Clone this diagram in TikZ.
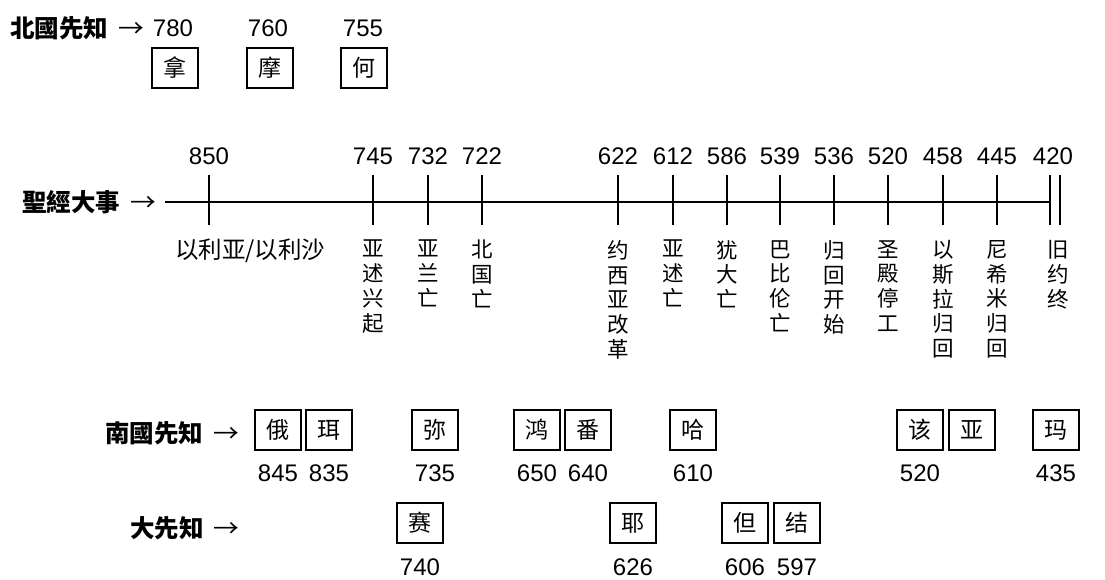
\documentclass[tikz,border=0pt]{standalone}
\usepackage{fontspec}
\setmainfont{Liberation Sans}
\newfontfamily\cjk{Noto Sans CJK SC}
\newcommand{\rowarrow}{\hspace{10pt}{\mdseries\scalebox{1.05}[1]{→}}}
\begin{document}
\begin{tikzpicture}[x=1pt,y=-1pt,
  pbox/.style={draw, line width=1.6pt, minimum width=46pt, minimum height=40pt, inner sep=0pt, font=\cjk\fontsize{23}{23}\selectfont},
  num/.style={inner sep=0pt, font=\fontsize{24}{24}\selectfont},
  vlab/.style={anchor=north, align=center, inner sep=0pt, font=\cjk\fontsize{21.5}{24.8}\selectfont},
  rowlab/.style={anchor=west, inner sep=0pt, font=\cjk\bfseries\fontsize{24.5}{24.5}\selectfont},
  tick/.style={line width=1.8pt}]
\useasboundingbox (0,0) rectangle (1105,579);
% north prophets
\node[rowlab] (rN) at (10,28) {北國先知\rowarrow};
\node[num] (n780) at (173,28) {780};
\node[num] (n760) at (268,28) {760};
\node[num] (n755) at (363,28) {755};
\node[pbox] (bNa) at (175,68) {拿};
\node[pbox] (bMo) at (270,68) {摩};
\node[pbox] (bHe) at (364,68) {何};
% timeline
\node[rowlab] (rT) at (22,202) {聖經大事\rowarrow};
\coordinate (ls) at (165,202);
\coordinate (le) at (1050,202);
\draw[line width=1.6pt] (ls) -- (le);
\foreach \x/\yr in {209/850,373/745,428/732,482/722,618/622,673/612,727/586,780/539,834/536,888/520,943/458,997/445}{
  \draw[tick] (\x,175) -- (\x,225);
  \node[num] (t\yr) at (\x,156) {\yr};
}
\draw[tick] (1050,175) -- (1050,225);
\draw[tick] (1060,175) -- (1060,225);
\node[num] (t420) at (1053,156) {420};
\node[anchor=west, inner sep=0pt, font=\cjk\fontsize{23.5}{23.5}\selectfont] (l850) at (175,251) {以利亚/以利沙};
\foreach \x/\lab/\nm in {373/{亚\\述\\兴\\起}/745, 428/{亚\\兰\\亡}/732, 482/{北\\国\\亡}/722,
  618/{约\\西\\亚\\改\\革}/622, 673/{亚\\述\\亡}/612, 727/{犹\\大\\亡}/586, 780/{巴\\比\\伦\\亡}/539,
  834/{归\\回\\开\\始}/536, 888/{圣\\殿\\停\\工}/520, 943/{以\\斯\\拉\\归\\回}/458,
  997/{尼\\希\\米\\归\\回}/445, 1058/{旧\\约\\终}/420}{
  \node[vlab] (l\nm) at (\x,240) {\lab};
}
% south prophets
\node[rowlab] (rS) at (105,433) {南國先知\rowarrow};
\foreach \x/\c/\yr/\nm in {278/俄/845/a, 329/珥/835/b, 435/弥/735/c, 537/鸿/650/d, 588/番/640/e, 693/哈/610/f, 1056/玛/435/i}{
  \node[pbox] (s\nm) at (\x,430) {\c};
  \node[num] (sn\nm) at (\x,473) {\yr};
}
\node[pbox] (sg) at (920,430) {该};
\node[pbox] (sh) at (972,430) {亚};
\node[num] (sng) at (920,473) {520};
% major prophets
\node[rowlab] (rM) at (130,528) {大先知\rowarrow};
\foreach \x/\c/\yr/\nm in {420/赛/740/a, 633/耶/626/b, 745/但/606/c, 797/结/597/d}{
  \node[pbox] (m\nm) at (\x,523) {\c};
  \node[num] (mn\nm) at (\x,567) {\yr};
}
\end{tikzpicture}
\end{document}
